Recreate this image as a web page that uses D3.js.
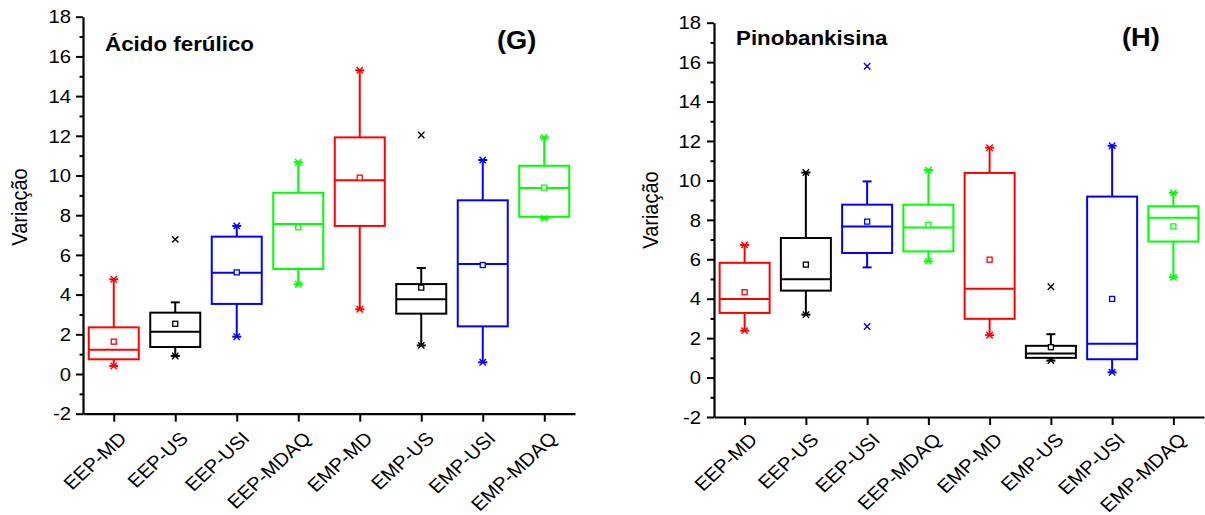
<!DOCTYPE html>
<html>
<head>
<meta charset="utf-8">
<script src="https://cdn.jsdelivr.net/npm/d3@7/dist/d3.min.js"></script>
<style>
  html, body { margin: 0; padding: 0; background: #fff; }
  svg { display: block; font-family: "Liberation Sans", Arial, sans-serif; }
</style>
</head>
<body>
<svg id="chart" width="1205" height="515"></svg>
<script>
// Groups (extract / treatment) and their colours
const categories = ["EEP-MD", "EEP-US", "EEP-USI", "EEP-MDAQ", "EMP-MD", "EMP-US", "EMP-USI", "EMP-MDAQ"];
const boxColors = ["#ff0000", "#000000", "#0000ff", "#00ff00", "#ff0000", "#000000", "#0000ff", "#00ff00"];

// Y axis ticks
const yMajorTicks = [-2, 0, 2, 4, 6, 8, 10, 12, 14, 16, 18];
const yMinorTicks = [-1, 1, 3, 5, 7, 9, 11, 13, 15, 17];

// (G) Ácido ferúlico
const ferulicoWhiskerLow  = [0.40, 0.91, 1.88, 4.52, 3.26, 1.44, 0.59, 7.84];
const ferulicoQ1          = [0.74, 1.36, 3.53, 5.29, 7.46, 3.04, 2.40, 7.92];
const ferulicoMedian      = [1.22, 2.13, 5.10, 7.56, 9.76, 3.76, 5.54, 9.37];
const ferulicoQ3          = [2.35, 3.09, 6.92, 9.13, 11.92, 4.53, 8.75, 10.49];
const ferulicoWhiskerHigh = [4.77, 3.61, 7.46, 10.67, 15.30, 5.34, 10.78, 11.92];
const ferulicoMean        = [1.63, 2.53, 5.12, 7.39, 9.89, 4.35, 5.49, 9.39];
const ferulicoMin         = [0.40, 0.91, 1.88, 4.52, 3.26, 1.44, 0.59, 7.84];
const ferulicoMax         = [4.77, 6.78, 7.46, 10.67, 15.30, 12.04, 10.78, 11.92];

// (H) Pinobankisina
const pinoWhiskerLow  = [2.38, 3.19, 5.59, 5.90, 2.15, 0.86, 0.27, 5.09];
const pinoQ1          = [3.28, 4.41, 6.32, 6.40, 2.98, 1.00, 0.93, 6.90];
const pinoMedian      = [3.99, 4.99, 7.66, 7.61, 4.51, 1.22, 1.71, 8.11];
const pinoQ3          = [5.82, 7.08, 8.77, 8.77, 10.38, 1.61, 9.18, 8.69];
const pinoWhiskerHigh = [6.73, 10.40, 9.95, 10.53, 11.66, 2.20, 11.76, 9.37];
const pinoMean        = [4.33, 5.73, 7.91, 7.74, 5.98, 1.54, 3.99, 7.67];
const pinoMin         = [2.38, 3.19, 2.59, 5.90, 2.15, 0.86, 0.27, 5.09];
const pinoMax         = [6.73, 10.40, 15.79, 10.53, 11.66, 4.61, 11.76, 9.37];

const svg = d3.select("#chart");
svg.append("rect").attr("width", 1205).attr("height", 515).attr("fill", "#fff");

// Text is drawn slightly widened horizontally
const SX = 1.09;

function buildRows(lo, q1, med, q3, hi, mean, mn, mx) {
  return categories.map((c, i) => ({
    cat: c, color: boxColors[i],
    lo: lo[i], q1: q1[i], med: med[i], q3: q3[i], hi: hi[i],
    mean: mean[i], min: mn[i], max: mx[i]
  }));
}

function drawPanel(opt) {
  const g = svg.append("g");
  const y = d3.scaleLinear().domain([-2, 18]).range([opt.bottom, opt.top]);
  const x = d3.scalePoint().domain(categories).range([opt.left, opt.right]).padding(0.5);
  const boxW = 50, capW = 9, mk = 3.2, meanS = 5;

  // Y axis: major + minor ticks
  g.append("g").attr("transform", `translate(${opt.left},0)`)
    .call(d3.axisLeft(y).tickValues(yMajorTicks).tickSize(7).tickSizeOuter(0).tickFormat(""));
  g.append("g").attr("transform", `translate(${opt.left},0)`)
    .call(d3.axisLeft(y).tickValues(yMinorTicks).tickSize(3.5).tickSizeOuter(0).tickFormat(""))
    .call(a => a.select(".domain").remove());

  // Y tick labels (plain hyphen for negatives)
  g.selectAll(".ylab").data(yMajorTicks).join("text")
    .attr("class", "ylab")
    .attr("text-anchor", "end")
    .attr("font-size", 18.6)
    .attr("fill", "#000")
    .attr("transform", d => `translate(${opt.left - opt.yLabGap},${y(d) + 6.7}) scale(${SX},1)`)
    .text(d => String(d));

  // X axis
  g.append("g").attr("transform", `translate(0,${opt.bottom})`)
    .call(d3.axisBottom(x).tickSize(8).tickSizeOuter(0).tickFormat(""));

  g.selectAll(".domain").attr("stroke", "#000").attr("stroke-width", 2.2);
  g.selectAll(".tick line").attr("stroke", "#000").attr("stroke-width", 2);

  // Rotated category labels
  g.selectAll(".xlab").data(categories).join("text")
    .attr("class", "xlab")
    .attr("text-anchor", "end")
    .attr("font-size", 18.6)
    .attr("fill", "#000")
    .attr("transform", d => `translate(${x(d) + 14},${opt.bottom + opt.xLabDy}) scale(${SX},1) rotate(-45)`)
    .text(d => d);

  // Axis title
  g.append("text")
    .attr("transform", `translate(${opt.ylabX},${opt.ylabY}) scale(${SX},1) rotate(-90)`)
    .attr("text-anchor", "middle")
    .attr("font-size", 20)
    .attr("fill", "#000")
    .text("Variação");

  // Compound name and panel letter
  g.append("text")
    .attr("transform", `translate(${opt.titleX},${opt.titleY}) scale(${SX},1)`)
    .attr("font-size", 20.5).attr("font-weight", "bold").attr("fill", "#000").text(opt.title);
  g.append("text")
    .attr("transform", `translate(${opt.letterX},${opt.letterY}) scale(${SX},1)`)
    .attr("font-size", 25).attr("font-weight", "bold").attr("fill", "#000").text(opt.letter);

  const boxes = g.selectAll(".box").data(opt.rows).join("g").attr("class", "box")
    .attr("stroke", d => d.color).attr("fill", "none").attr("stroke-width", 2);

  // Whiskers
  boxes.append("line")
    .attr("x1", d => x(d.cat)).attr("x2", d => x(d.cat))
    .attr("y1", d => y(d.q3)).attr("y2", d => y(d.hi));
  boxes.append("line")
    .attr("x1", d => x(d.cat)).attr("x2", d => x(d.cat))
    .attr("y1", d => y(d.q1)).attr("y2", d => y(d.lo));
  // Whisker caps
  boxes.append("line")
    .attr("x1", d => x(d.cat) - capW / 2).attr("x2", d => x(d.cat) + capW / 2)
    .attr("y1", d => y(d.hi)).attr("y2", d => y(d.hi));
  boxes.append("line")
    .attr("x1", d => x(d.cat) - capW / 2).attr("x2", d => x(d.cat) + capW / 2)
    .attr("y1", d => y(d.lo)).attr("y2", d => y(d.lo));

  // Box (Q1–Q3) and median
  boxes.append("rect")
    .attr("x", d => x(d.cat) - boxW / 2).attr("width", boxW)
    .attr("y", d => y(d.q3)).attr("height", d => y(d.q1) - y(d.q3))
    .attr("fill", "#fff");
  boxes.append("line")
    .attr("x1", d => x(d.cat) - boxW / 2).attr("x2", d => x(d.cat) + boxW / 2)
    .attr("y1", d => y(d.med)).attr("y2", d => y(d.med));

  // Mean marker (open square)
  boxes.append("rect")
    .attr("x", d => x(d.cat) - meanS / 2).attr("y", d => y(d.mean) - meanS / 2)
    .attr("width", meanS).attr("height", meanS)
    .attr("fill", "#fff").attr("stroke-width", 1.3);

  // Min / max markers (×)
  const cross = (cx, cy) => `M${cx - mk},${cy - mk}L${cx + mk},${cy + mk}M${cx - mk},${cy + mk}L${cx + mk},${cy - mk}`;
  boxes.append("path").attr("stroke-width", 1.4)
    .attr("d", d => cross(x(d.cat), y(d.max)) + cross(x(d.cat), y(d.min)));
}

drawPanel({
  rows: buildRows(ferulicoWhiskerLow, ferulicoQ1, ferulicoMedian, ferulicoQ3, ferulicoWhiskerHigh, ferulicoMean, ferulicoMin, ferulicoMax),
  left: 83, right: 575, top: 16.7, bottom: 413.7,
  yLabGap: 12, xLabDy: 26,
  ylabX: 27, ylabY: 207,
  title: "Ácido ferúlico", titleX: 105, titleY: 50.7,
  letter: "(G)", letterX: 497, letterY: 48.5
});

drawPanel({
  rows: buildRows(pinoWhiskerLow, pinoQ1, pinoMedian, pinoQ3, pinoWhiskerHigh, pinoMean, pinoMin, pinoMax),
  left: 714, right: 1204, top: 22.7, bottom: 417,
  yLabGap: 13, xLabDy: 24,
  ylabX: 658, ylabY: 210,
  title: "Pinobankisina", titleX: 736, titleY: 45,
  letter: "(H)", letterX: 1122, letterY: 46
});
</script>
</body>
</html>
